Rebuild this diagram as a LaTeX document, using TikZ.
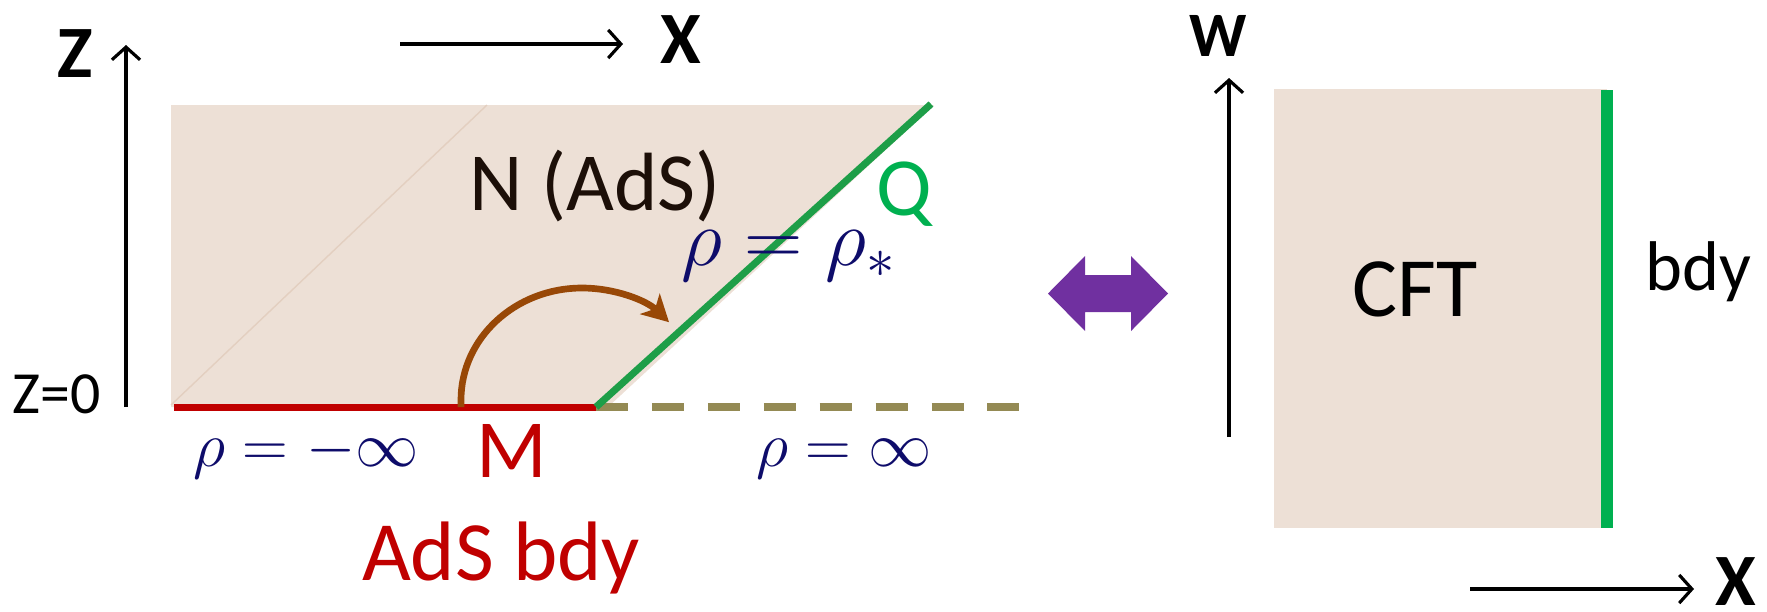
\RequirePackage{fix-cm}
\documentclass[tikz,border=0pt]{standalone}
\usepackage{fontspec}
\setmainfont{Carlito}
\usetikzlibrary{arrows.meta}
\definecolor{BulkFill}{HTML}{EDE0D6}
\definecolor{BulkSeam}{HTML}{E3CFC0}
\definecolor{BdyRed}{HTML}{C00000}
\definecolor{BraneGreen}{HTML}{1E9E48}
\definecolor{CftGreen}{HTML}{00B050}
\definecolor{FarOlive}{HTML}{948A54}
\definecolor{AngleBrown}{HTML}{984807}
\definecolor{RhoNavy}{HTML}{0E0C6A}
\definecolor{DualPurple}{HTML}{7030A0}
\definecolor{LabelInk}{HTML}{1C0F08}
\tikzset{
  axis/.style={line width=0.9pt,-{Straight Barb[length=3.6pt,width=8pt]}},
  lbl/.style={inner sep=0pt,anchor=base},
  coordlbl/.style={lbl,font=\fontsize{21}{24}\selectfont\bfseries},
  biglbl/.style={lbl,font=\fontsize{23.5}{28}\selectfont},
  rholbl/.style={lbl,text=RhoNavy,font=\fontsize{18}{22}\selectfont},
}

\begin{document}
\begin{tikzpicture}[x=0.01cm,y=-0.01cm]
    \useasboundingbox (0,0) rectangle (1767,611);

    % bulk region and brane
    \fill[BulkFill] (171,105) -- (934,105) -- (608,407) -- (171,407) -- cycle;
    \draw[BulkSeam,line width=0.4pt] (487,105) -- (171,405);
    \coordinate (mleft) at (174,407);
    \coordinate (corner) at (596,407);
    \coordinate (far) at (1020,407);
    \coordinate (qtop) at (931,104);
    \coordinate (mfoot) at (461,407);
    \draw[FarOlive,line width=2.2pt,dash pattern=on 9.1pt off 6.8pt] (corner) -- (far);
    \draw[BdyRed,line width=2pt] (mleft) -- (corner);
    \draw[BraneGreen,line width=2pt] (corner) -- (qtop);
    \draw[AngleBrown,line width=1.9pt,-{Stealth[length=7.5pt,width=8pt,inset=2pt]}]
      (mfoot) -- (461,400) arc[start angle=180,end angle=316,x radius=121,y radius=112];

    \coordinate (zbot) at (126,407);
    \coordinate (ztop) at (126,45);
    \draw[axis] (zbot) -- (ztop);
    \node[coordlbl] (zlab) at (75,77) {Z};
    \coordinate (xstart) at (400,44);
    \coordinate (xend) at (623,44);
    \draw[axis] (xstart) -- (xend);
    \node[coordlbl] (xlab) at (681,63) {X};

    \node[lbl,font=\fontsize{17}{20}\selectfont] (zzero) at (57,413) {Z=0};
    \node[biglbl,text=LabelInk] (bulk) at (595,210) {N (AdS)};
    \node[biglbl,text=CftGreen] (qlab) at (904,215) {Q};
    \node[rholbl,font=\fontsize{23}{26}\selectfont] (rhostar) at (789,265) {$\rho=\rho_*$};
    \node[biglbl,text=BdyRed] (mlab) at (512,477) {M};
    \node[rholbl] (rhominus) at (306,466) {$\rho=-\infty$};
    \node[rholbl] (rhoplus) at (844,466) {$\rho=\infty$};
    \node[biglbl,font=\fontsize{24}{28}\selectfont,text=BdyRed] (adsbdy) at (501,580) {AdS bdy};

    % duality arrow
    \fill[DualPurple] (1048,293.5) -- (1085,256) -- (1085,275) -- (1131,275) -- (1131,256)
      -- (1168,293.5) -- (1131,331) -- (1131,312) -- (1085,312) -- (1085,331) -- cycle;

    % boundary CFT
    \fill[BulkFill] (1274,89) rectangle (1607,528);
    \coordinate (btop) at (1607,90);
    \coordinate (bbot) at (1607,528);
    \draw[CftGreen,line width=3.4pt] (btop) -- (bbot);
    \node[biglbl,font=\fontsize{24}{28}\selectfont] (cft) at (1415,316) {CFT};
    \node[lbl,font=\fontsize{20}{24}\selectfont] (bdy) at (1698,290) {bdy};

    \coordinate (wbot) at (1229,437);
    \coordinate (wtop) at (1229,78);
    \draw[axis] (wbot) -- (wtop);
    \node[coordlbl,font=\fontsize{18}{20}\selectfont\bfseries] (wlab) at (1218,56) {W};
    \coordinate (xbstart) at (1470,589);
    \coordinate (xbend) at (1694,589);
    \draw[axis] (xbstart) -- (xbend);
    \node[coordlbl] (xblab) at (1736,605) {X};
\end{tikzpicture}
\end{document}
